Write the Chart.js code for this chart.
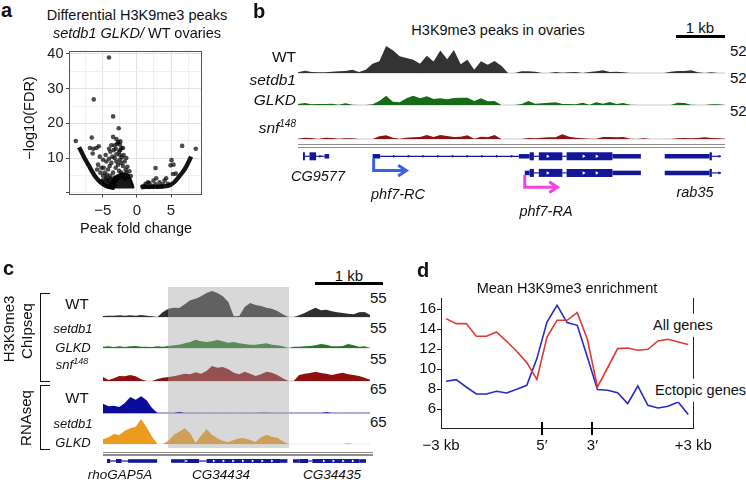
<!DOCTYPE html>
<html>
<head>
<meta charset="utf-8">
<script src="https://cdn.jsdelivr.net/npm/chart.js@4.4.1/dist/chart.umd.min.js"></script>
<style>
    body { margin: 0; width: 746px; height: 482px; overflow: hidden; position: relative; background: #fff; color: #111;
           font-family: "Liberation Sans", Arial, sans-serif; }
    canvas { position: absolute; }
    .t { position: absolute; white-space: nowrap; line-height: 1; }
    .rule { position: absolute; }
</style>
</head>
<body>
<script>
    // ---------- a: volcano plot (fold change vs -log10 FDR)
    var volcanoX = [-4.1, -6.34, -3.5, -2.68, -8.98, -6.63, -3.5, 6.63, 8.63, 2.73, 5.07, 5.37, 5.7, -5.6, -5.95, -6.9, -6.4, -6.5,
        -3.27, -2.9, -2.5, -3.1, -2.44, -2.5, -5.46, -4.98, -5.22, -5.71, -4.49, -4.73, -4.24, -4.0, -3.76, -4.1, -3.61, -3.27,
        -3.02, -2.78, -2.54, -2.29, -2.05, -1.8, -1.66, -3.12, -2.63, -2.29, -3.51, -3.9, -4.49, -4.98, -4.24, -3.27, -3.02, -2.54,
        -2.05, -1.56, -1.32, -1.8, -5.37, -4.88, -5.85, -4.59, -3.9, -3.41, -3.02, -2.63, -2.29, -2.78, -3.02, -2.44, -2.05, -1.95,
        -1.56, -3.76, -4.1, -4.8, -4.5, -4.2, -3.9, -3.7, -4.6, -4.0, -3.6, -5.0, -4.3, -3.8, -3.4, -3.3, 1.85, 1.61, 2.44, 2.83,
        3.32, 3.8, 4.05, 4.54, 3.56, 2.24, 1.12, 4.29, 1.27, 2.73, 4.93, 5.27, 0.78, 3.07, 1.76, -5.3, -4.4, -1.1, -0.9, -1.4, -2.2];
    var volcanoY = [39.0, 26.9, 22.0, 18.6, 14.9, 15.9, 16.1, 13.5, 12.7, 7.1, 9.4, 8.1, 5.5, 13.4, 12.9, 12.9, 12.7, 11.3,
        13.7, 14.1, 13.9, 12.7, 12.3, 10.9, 10.4, 9.5, 7.2, 8.1, 9.0, 5.8, 6.7, 7.7, 8.6, 9.8, 10.4, 10.0,
        9.0, 8.1, 9.5, 8.6, 7.7, 9.0, 6.7, 7.2, 6.3, 5.8, 5.8, 4.9, 4.4, 4.9, 3.5, 4.4, 3.5, 4.4,
        4.9, 5.8, 4.4, 4.0, 5.8, 7.2, 6.7, 10.9, 11.8, 12.3, 11.1, 11.8, 12.9, 14.6, 15.5, 14.8, 12.9, 10.9,
        10.0, 13.7, 12.7, 3.0, 2.5, 3.2, 2.6, 3.8, 3.9, 4.2, 2.2, 3.6, 1.9, 1.7, 3.0, 2.0, 2.8, 3.0, 3.5, 4.2,
        3.0, 2.4, 3.5, 2.6, 1.8, 2.0, 2.0, 4.2, 2.6, 2.4, 7.9, 5.4, 1.8, 1.7, 1.7, 3.3, 5.2, 6.2, 4.8, 7.5, 10.2];
    // dense lower edge of the cloud on each side, and the packed block near zero
    var leftEdgeX = [-8.49, -8.15, -7.8, -7.41, -7.02, -6.63, -6.2, -5.7, -5.2, -4.59, -4.0, -3.27];
    var leftEdgeY = [13.1, 11.8, 10.4, 9.0, 7.7, 6.3, 4.9, 3.7, 2.8, 2.0, 1.6, 1.4];
    var rightEdgeX = [0.63, 1.37, 2.34, 3.32, 4.29, 5.02, 5.51, 6.0, 6.49, 6.98, 7.46, 7.95];
    var rightEdgeY = [1.6, 1.7, 1.7, 1.8, 1.9, 2.4, 3.1, 4.2, 5.4, 6.7, 8.4, 10.4];
    var blockX = [-4.2, -3.8, -3.4, -2.9, -2.2, -1.6, -1.2, -0.85, -0.6, -0.5];
    var blockY = [1.3, 3.0, 4.3, 5.0, 5.6, 5.5, 5.2, 3.6, 2.2, 1.3];
    var fcTicks = [-5, 0, 5];
    var fcLabels = ['\u22125', '0', '5'];
    var fdrTicks = [10, 20, 30, 40];

    // ---------- b: H3K9me3 coverage in ovaries, 64 bins across the phf7 locus
    var ovWT = [1.2, 4.0, 1.7, 1.2, 1.2, 2.3, 2.9, 3.5, 5.8, 1.7, 5.8, 16.2, 20.2, 47, 39.3, 28.9, 26, 23.1, 16.2, 30, 20, 39, 24, 40,
        15, 23.1, 5.5, 20.2, 14.5, 21, 12.7, 0, 0, 2.9, 2.9, 2.3, 0, 0, 1.7, 0.6, 1.2, 1.7, 0, 1.7, 2.9, 4.6, 1.7, 2.3,
        1.2, 0, 0, 0, 0, 0, 0, 2.3, 3.5, 3.5, 4.6, 1.2, 0, 1.2, 0, 0];
    var ovGLKD = [1.7, 3.5, 1.2, 1.7, 1.7, 2.3, 0.6, 2.9, 0.6, 0, 0, 1.2, 6.9, 16.2, 5.8, 4.6, 11.6, 16.2, 11.6, 15, 10.4, 11.6, 9.8, 12.1,
        12.7, 12.7, 6.9, 11.6, 6.4, 6.9, 0, 0, 0, 1.7, 6.9, 2.3, 2.9, 4, 4.6, 1.7, 1.7, 1.2, 4, 0.6, 4.6, 2.3, 5.2, 1.7,
        3.5, 0.6, 0, 0, 0, 0, 0, 0, 4, 3.5, 0.6, 0, 0, 1.2, 1.2, 0];
    var ovSnf = [0.6, 2.3, 1.7, 0, 2.3, 1.7, 0.6, 1.2, 1.2, 0, 0, 0, 4.6, 6.4, 2.3, 0.6, 2.3, 2.9, 3.5, 6.9, 3.5, 6.9, 5.2, 3.5,
        4, 6.4, 0.6, 4, 2.9, 6.9, 0, 0, 0, 0, 1.7, 1.2, 2.3, 2.9, 2.9, 8.1, 4, 2.3, 1.2, 0.6, 0.6, 3.5, 3.5, 2.9,
        3.5, 0.6, 0, 1.2, 0, 0, 0, 0, 1.2, 1.7, 1.2, 1.7, 2.9, 1.7, 1.2, 0.6];
    var ovMax = 52;
    // gene parts in kb from the left edge of the window; row 1 / row 2 = two transcript lines
    var phf7Row = [1, 1, 1, 1, 1, 1, 1, 1, 1, 1, 1, 1, 1, 1, 2, 2, 2, 2, 2, 2, 2, 1, 1, 1, 2, 2, 2];
    var phf7Start = [0.02, 0.061, 0.156, 0.293, 0.469, 1.469, 1.626, 4.51, 4.735, 4.823, 4.925, 5.415, 5.503, 6.456,
        4.633, 4.735, 4.823, 4.925, 5.415, 5.503, 6.456, 7.544, 8.476, 8.524, 7.544, 8.476, 8.524];
    var phf7End = [0.061, 0.156, 0.293, 0.469, 0.565, 1.626, 4.51, 4.735, 4.823, 4.925, 5.415, 5.503, 6.456, 7.048,
        4.735, 4.823, 4.925, 5.415, 5.503, 6.456, 7.048, 8.476, 8.524, 8.714, 8.476, 8.524, 8.714];
    var phf7Kind = ['cds', 'intron', 'cds', 'intron', 'utr', 'utr', 'intron', 'utr', 'cds', 'intron', 'cds', 'intron', 'cds', 'utr',
        'utr', 'cds', 'intron', 'cds', 'intron', 'cds', 'utr', 'utr', 'cds', 'intron', 'utr', 'cds', 'intron'];
    var phf7IntronMarks = [0.38, 1.912, 2.218, 2.524, 2.83, 3.136, 3.442, 3.748, 4.054, 4.361, 8.68, 8.68];
    var phf7IntronRows = [1, 1, 1, 1, 1, 1, 1, 1, 1, 1, 1, 2];
    var phf7ExonMarks = [5.109, 5.857, 6.129, 5.109, 5.857, 6.129];
    var phf7ExonRows = [1, 1, 1, 2, 2, 2];
    var tssPos = [1.49, 4.633];
    var tssRow = [1, 2];
    var winB = 8.714;

    // ---------- c: ChIP-seq and RNA-seq around CG34434, 50 bins
    var chipWT = [2, 2.6, 2.6, 3.3, 2.6, 3.3, 2.6, 3.9, 2.6, 1.3, 0, 9.8, 16.4, 18.3, 17.7, 24.9, 32.8, 36, 40.6, 47.2, 51.1, 47.2, 40.6, 29.5,
        1.3, 2, 19.7, 27.5, 23.6, 21.6, 18.3, 16.4, 11.8, 5.2, 0, 0, 3.3, 7.9, 13.1, 18.3, 13.1, 14.4, 11.1, 9.2, 7.9, 6.6, 5.2, 9.2, 9.8, 3.9];
    var chipGLKD = [2.6, 3.3, 2, 3.3, 2, 3.3, 3.9, 2.6, 2.6, 2, 3.3, 2.6, 3.9, 5.2, 6.6, 9.2, 11.8, 16.4, 13.1, 11.8, 13.1, 15.7, 13.1, 10.5,
        11.8, 9.2, 7.9, 6.6, 6.6, 7.9, 9.2, 6.6, 5.2, 3.3, 0, 2.6, 2.6, 3.3, 3.9, 5.2, 7.9, 6.6, 3.3, 3.3, 3.9, 7.9, 5.2, 2.6, 3.3, 0];
    var chipSnf = [7.9, 2, 5.2, 9.8, 9.2, 11.8, 9.2, 3.3, 0, 0, 3.9, 6.6, 7.9, 9.2, 11.8, 14.4, 13.1, 17, 14.4, 19.7, 29.5, 26.2, 27.5, 22.9,
        16.4, 13.1, 18.3, 14.4, 9.8, 13.1, 18.3, 16.4, 11.8, 5.2, 0, 0, 11.8, 14.4, 15.7, 18.3, 15.7, 14.4, 11.8, 14.4, 16.4, 13.1, 11.8, 9.8, 6.6, 2.6];
    var rnaWT = [21.7, 15.5, 17, 13.9, 23.2, 37.2, 31, 38.7, 29.4, 11.6, 0, 0, 0, 0, 3.1, 0, 0, 0, 0, 0, 0, 0, 0, 0,
        0, 0, 0, 0, 0, 0.8, 0.8, 0, 0, 0, 0, 0, 0, 0, 0, 0, 0, 1.5, 0, 0, 0, 0, 0, 0, 0, 0];
    var rnaGLKD = [10.8, 15.5, 23.2, 20.9, 31, 36.4, 40.2, 58.1, 38.7, 17, 0, 0, 7.7, 21.7, 28.6, 36.4, 24.8, 2.3, 19.4, 34.8, 21.7, 13.2, 7, 3.9,
        9.3, 13.2, 13.2, 9.3, 4.6, 15.5, 21.7, 17, 14.7, 6.2, 0, 0, 0, 0, 0, 0, 0, 0, 0, 0, 0, 1.5, 0, 0, 0, 0];
    var chipMax = 55;
    var rnaMax = 65;
    var cgStart = [0.0, 0.049, 0.137, 0.221, 0.319, 0.971, 1.176, 1.397, 1.51, 2.623, 2.819, 2.917, 3.049, 3.113, 3.824];
    var cgEnd = [0.049, 0.137, 0.221, 0.319, 0.76, 1.176, 1.397, 1.51, 2.623, 2.735, 2.917, 3.049, 3.113, 3.824, 3.931];
    var cgKind = ['cds', 'intron', 'cds', 'intron', 'utr', 'utr', 'cds', 'intron', 'cds', 'utr', 'utr', 'cds', 'intron', 'cds', 'utr'];
    var cgExonMarks = [1.2, 1.618, 1.765, 1.912, 2.059, 2.206, 2.353, 2.5, 3.285, 3.431, 3.578, 3.725];
    var winC = 3.926;

    // ---------- d: mean H3K9me3 over 25 bins (-3 kb .. 5' .. 3' .. +3 kb)
    var allGenes = [15.07, 14.57, 14.57, 13.3, 13.3, 13.73, 12.8, 11.8, 10.67, 9.0, 13.23, 14.9, 14.9, 15.67, 13.0, 8.23,
        10.13, 12.07, 12.13, 11.9, 12.0, 12.83, 13.0, 12.73, 12.47];
    var ectopicGenes = [8.8, 8.97, 8.23, 7.53, 7.53, 7.8, 7.63, 8.0, 8.4, 11.07, 14.73, 16.4, 14.67, 14.4, 11.23, 7.97,
        7.9, 7.67, 6.57, 8.33, 6.4, 6.13, 6.3, 6.73, 5.47];
    var profileTicks = [0, 10, 15, 25];
    var profileLabels = ['\u22123 kb', '5\u2032', '3\u2032', '+3 kb'];
    var geneEdges = [10, 15];
    var enrichTicks = [6, 8, 10, 12, 14, 16];

    Chart.defaults.font.family = '"Liberation Sans", Arial, sans-serif';
    Chart.defaults.color = '#222';
    Chart.defaults.plugins.legend.display = false;
    Chart.defaults.plugins.tooltip.enabled = false;

    var base = { animation: false, responsive: false, devicePixelRatio: 1, events: [] };
    var navy = '#12179a';

    function makeCanvas(x, y, w, h) {
        var c = document.createElement('canvas');
        c.width = w; c.height = h;
        c.style.left = x + 'px'; c.style.top = y + 'px';
        document.body.appendChild(c);
        return c;
    }

    function label(html, x, y, o) {
        o = o || {};
        var d = document.createElement('div');
        d.className = 't';
        d.innerHTML = html;
        d.style.left = x + 'px';
        d.style.top = y + 'px';
        d.style.fontSize = (o.size || 15) + 'px';
        if (o.bold) d.style.fontWeight = 'bold';
        if (o.italic) d.style.fontStyle = 'italic';
        if (o.bg) { d.style.background = o.bg; d.style.padding = o.pad; }
        var ax = o.align === 'left' ? '0' : (o.align === 'right' ? '-100%' : '-50%');
        d.style.transform = 'translate(' + ax + ',-50%)' + (o.rotate ? ' rotate(' + o.rotate + 'deg)' : '');
        document.body.appendChild(d);
        return d;
    }

    function rule(x, y, w, h, css) {
        var d = document.createElement('div');
        d.className = 'rule';
        d.style.left = x + 'px'; d.style.top = y + 'px';
        d.style.width = w + 'px'; d.style.height = h + 'px';
        d.style.cssText += css;
        document.body.appendChild(d);
        return d;
    }

    function opts(extra) {
        return Object.assign({}, base, extra);
    }

    // one coverage track: baseline sits at pixel `baseY`, full scale `max` is `h` px tall
    function track(left, baseY, width, h, vals, max, color, lineColor) {
        var c = makeCanvas(left, Math.round(baseY - h), width, h + 2);
        var sets = [{ data: vals, backgroundColor: color, borderColor: 'transparent', borderWidth: 0, fill: 'origin', pointRadius: 0 }];
        if (lineColor) {
            sets.push({ data: vals.map(function () { return 0; }), borderColor: lineColor, borderWidth: 1, pointRadius: 0, fill: false });
        }
        new Chart(c, {
            type: 'line',
            data: { labels: vals.map(function (v, i) { return i; }), datasets: sets },
            options: opts({
                layout: { padding: 0 },
                scales: { x: { display: false }, y: { display: false, min: -max * 2 / h, max: max } }
            })
        });
    }

    function geneModel(left, top, width, height, kbMax, rowMin, rowMax, rows, starts, ends, kinds, thick, extraSets) {
        var c = makeCanvas(left, top, width, height);
        var sets = extraSets.slice();
        starts.forEach(function (s, i) {
            sets.push({
                data: [{ x: s, y: rows[i] }, { x: ends[i], y: rows[i] }],
                showLine: true, borderColor: navy, borderWidth: thick[kinds[i]], borderCapStyle: 'butt', pointRadius: 0
            });
        });
        new Chart(c, {
            type: 'scatter',
            data: { datasets: sets },
            options: opts({
                layout: { padding: 0 },
                scales: {
                    x: { type: 'linear', display: false, min: 0, max: kbMax },
                    y: { type: 'linear', display: false, min: rowMin, max: rowMax, reverse: true }
                }
            })
        });
    }

    function marks(xs, ys, color, r) {
        return {
            data: xs.map(function (x, i) { return { x: x, y: ys[i] }; }),
            pointStyle: 'triangle', rotation: 90, pointRadius: r, backgroundColor: color, borderWidth: 0
        };
    }

    // ================= a
    var gridMinorX = [-7.5, -2.5, 2.5, 7.5];
    var gridMinorY = [0, 5, 15, 25, 35];
    function mixTicks(major, minor) {
        return major.concat(minor).sort(function (p, q) { return p - q; }).map(function (v) { return { value: v }; });
    }
    function isMajor(list) {
        return function (ctx) { return ctx.tick && list.indexOf(ctx.tick.value) >= 0; };
    }
    var majX = isMajor(fcTicks), majY = isMajor(fdrTicks);
    var pts = function (xs, ys) { return xs.map(function (x, i) { return { x: x, y: ys[i] }; }); };

    var cA = makeCanvas(0, 40, 210, 196);
    new Chart(cA, {
        type: 'scatter',
        data: {
            datasets: [
                { data: pts(volcanoX, volcanoY), pointRadius: 2.3, backgroundColor: 'rgba(0,0,0,0.7)', borderWidth: 0 },
                { data: pts(leftEdgeX, leftEdgeY), showLine: true, borderColor: 'rgba(0,0,0,0.92)', borderWidth: 4.4, pointRadius: 0, tension: 0.35 },
                { data: pts(rightEdgeX, rightEdgeY), showLine: true, borderColor: 'rgba(0,0,0,0.92)', borderWidth: 4.4, pointRadius: 0, tension: 0.35 },
                { data: pts(blockX, blockY), showLine: true, borderColor: 'rgba(0,0,0,0.9)', borderWidth: 2, pointRadius: 0,
                  backgroundColor: 'rgba(0,0,0,0.9)', fill: { value: 1.2 } }
            ]
        },
        options: opts({
            layout: { padding: { top: 5.5, right: 9, left: 0, bottom: 0 } },
            scales: {
                x: {
                    type: 'linear', min: -9.9, max: 9.4,
                    afterBuildTicks: function (s) { s.ticks = mixTicks(fcTicks, gridMinorX); },
                    afterFit: function (s) { s.height = 42; },
                    ticks: {
                        font: { size: 15 }, color: '#222', padding: 4, maxRotation: 0, autoSkip: false,
                        callback: function (v) { var k = fcTicks.indexOf(v); return k < 0 ? '' : fcLabels[k]; }
                    },
                    grid: {
                        color: function (ctx) { return majX(ctx) ? '#e2e2e2' : '#f0f0f0'; },
                        tickColor: function (ctx) { return majX(ctx) ? '#444' : 'rgba(0,0,0,0)'; },
                        tickLength: 3.5
                    },
                    border: { color: '#555', width: 1 }
                },
                y: {
                    type: 'linear', min: -0.36, max: 40.8,
                    afterBuildTicks: function (s) { s.ticks = mixTicks(fdrTicks, gridMinorY); },
                    afterFit: function (s) { s.width = 69.5; },
                    ticks: {
                        font: { size: 14.5 }, color: '#222', padding: 2.5, autoSkip: false,
                        callback: function (v) { return fdrTicks.indexOf(v) < 0 ? '' : String(v); }
                    },
                    grid: {
                        color: function (ctx) { return majY(ctx) ? '#e2e2e2' : '#f0f0f0'; },
                        tickColor: function (ctx) { return majY(ctx) || (ctx.tick && ctx.tick.value === 0) ? '#444' : 'rgba(0,0,0,0)'; },
                        tickLength: 3.5
                    },
                    border: { color: '#555', width: 1 }
                },
                x2: { type: 'linear', position: 'top', ticks: { display: false }, grid: { display: false, drawTicks: false },
                      border: { color: '#555', width: 1 }, afterFit: function (s) { s.height = 0; } },
                y2: { type: 'linear', position: 'right', ticks: { display: false }, grid: { display: false, drawTicks: false },
                      border: { color: '#555', width: 1 }, afterFit: function (s) { s.width = 0; } }
            }
        })
    });

    label('a', 1, 10, { align: 'left', bold: true, size: 20 });
    label('Differential H3K9me3 peaks', 137, 15, { size: 14.5 });
    label('<i>setdb1 GLKD/</i> WT ovaries', 137, 32.5, { size: 14.5 });
    label('\u2212log10(FDR)', 29, 118, { size: 14.5, rotate: -90 });
    label('Peak fold change', 136, 228, { size: 14.5 });

    // ================= b
    track(298, 72.5, 427, 30, ovWT, ovMax, '#333333', '#c9c9c9');
    track(298, 105.3, 427, 30, ovGLKD, ovMax, '#166b16', '#c9c9c9');
    track(298, 138.7, 427, 30, ovSnf, ovMax, '#8a1414', '#c9c9c9');
    rule(298, 144, 427, 1.3, 'background:#8e8e8e;');
    rule(298, 146.8, 427, 1.3, 'background:#8e8e8e;');

    var tssColor = ['#3d5fe3', '#ee45dc'];
    var tssSets = [];
    tssPos.forEach(function (p, i) {
        var r = tssRow[i], yb = r + 0.86, end = p + 0.68;
        tssSets.push({ data: [{ x: p, y: r + 0.12 }, { x: p, y: yb }, { x: end, y: yb }], showLine: true, borderColor: tssColor[i],
                       borderWidth: 3, borderJoinStyle: 'miter', pointRadius: 0 });
        tssSets.push({ data: [{ x: end - 0.17, y: yb - 0.32 }, { x: end, y: yb }, { x: end - 0.17, y: yb + 0.32 }], showLine: true,
                       borderColor: tssColor[i], borderWidth: 3, borderJoinStyle: 'miter', pointRadius: 0 });
    });
    geneModel(298, 141, 427, 57, winB, 0.32, 3.27, phf7Row, phf7Start, phf7End, phf7Kind,
        { cds: 8, utr: 4.5, intron: 1.2 },
        [marks(phf7ExonMarks, phf7ExonRows, '#ffffff', 2), marks(phf7IntronMarks, phf7IntronRows, navy, 1.8)].concat(tssSets));

    label('b', 253, 10.5, { align: 'left', bold: true, size: 20 });
    label('H3K9me3 peaks in ovaries', 498, 30, { size: 14.5 });
    label('1 kb', 700, 27, { size: 15 });
    rule(676, 35.2, 49, 3, 'background:#000;');
    label('WT', 296, 57, { align: 'right', size: 15.5 });
    label('setdb1', 296, 80, { align: 'right', size: 15.5, italic: true });
    label('GLKD', 296, 100, { align: 'right', size: 15.5, italic: true });
    label('snf<sup style="font-size:10px">148</sup>', 296, 127, { align: 'right', size: 15.5, italic: true });
    label('52', 730, 50, { align: 'left', size: 15 });
    label('52', 730, 77, { align: 'left', size: 15 });
    label('52', 730, 110, { align: 'left', size: 15 });
    label('CG9577', 318, 176, { size: 14.5, italic: true });
    label('phf7-RC', 398, 194, { size: 14.5, italic: true });
    label('phf7-RA', 546, 211, { size: 14.5, italic: true });
    label('rab35', 695, 192, { size: 14.5, italic: true });

    // ================= c
    track(103, 317.3, 267, 28, chipWT, chipMax, '#2e2e2e', '#cfcfcf');
    track(103, 348.3, 267, 28, chipGLKD, chipMax, '#237a23', '#cfcfcf');
    track(103, 380.7, 267, 28, chipSnf, chipMax, '#8e1010', '#cfcfcf');
    track(103, 412.7, 267, 28, rnaWT, rnaMax, '#0b0b9a', '#5a5ab8');
    track(103, 444.3, 267, 28, rnaGLKD, rnaMax, '#eb9c1e', '#ececec');
    // highlighted CG34434 region
    rule(168.3, 287.3, 120.7, 160.4, 'background:rgba(164,164,164,0.43);');
    rule(103, 452, 270, 1.3, 'background:#8e8e8e;');
    rule(103, 454.4, 270, 1.3, 'background:#8e8e8e;');
    geneModel(103, 455, 267, 12, winC, 0.5, 1.5, cgStart.map(function () { return 1; }), cgStart, cgEnd, cgKind,
        { cds: 6, utr: 3.6, intron: 1.2 },
        [marks(cgExonMarks, cgExonMarks.map(function () { return 1; }), '#ffffff', 1.6)]);

    label('c', 3, 268, { align: 'left', bold: true, size: 20 });
    label('1 kb', 349, 274.5, { size: 15 });
    rule(315, 282, 68, 3, 'background:#000;');
    rule(40, 293, 10, 89, 'border:1.5px solid #111;border-right:none;box-sizing:border-box;');
    rule(40, 385, 10, 65, 'border:1.5px solid #111;border-right:none;box-sizing:border-box;');
    label('H3K9me3', 8, 329, { size: 15, rotate: -90 });
    label('ChIpseq', 26, 331, { size: 15, rotate: -90 });
    label('RNAseq', 25, 418, { size: 15, rotate: -90 });
    label('WT', 77, 302.7, { size: 15 });
    label('setdb1', 73, 328, { size: 13, italic: true });
    label('GLKD', 73, 346.7, { size: 13, italic: true });
    label('snf<sup style="font-size:9px">148</sup>', 72, 364, { size: 13, italic: true });
    label('WT', 77, 396.7, { size: 15 });
    label('setdb1', 73, 423, { size: 13, italic: true });
    label('GLKD', 73, 441.7, { size: 13, italic: true });
    label('55', 370, 296.7, { align: 'left', size: 15 });
    label('55', 370, 326.7, { align: 'left', size: 15 });
    label('55', 370, 357.5, { align: 'left', size: 15 });
    label('65', 370, 388, { align: 'left', size: 15 });
    label('65', 370, 421, { align: 'left', size: 15 });
    label('rhoGAP5A', 120, 475, { size: 13.5, italic: true });
    label('CG34434', 221, 475, { size: 13.5, italic: true });
    label('CG34435', 332, 475, { size: 13.5, italic: true });

    // ================= d
    var edgeMarks = {
        id: 'edgeMarks',
        afterDraw: function (chart) {
            var xs = chart.scales.x, b = chart.chartArea.bottom, ctx = chart.ctx;
            ctx.save();
            ctx.strokeStyle = '#000';
            ctx.lineWidth = 2;
            geneEdges.forEach(function (v) {
                var px = Math.round(xs.getPixelForValue(v));
                ctx.beginPath(); ctx.moveTo(px, b - 6); ctx.lineTo(px, b + 7); ctx.stroke();
            });
            ctx.restore();
        }
    };
    var binned = function (vals) { return vals.map(function (v, i) { return { x: i + 0.5, y: v }; }); };
    var cD = makeCanvas(400, 280, 346, 170);
    new Chart(cD, {
        type: 'line',
        data: {
            datasets: [
                { data: binned(allGenes), borderColor: '#dd3a3a', borderWidth: 1.6, pointRadius: 0, tension: 0 },
                { data: binned(ectopicGenes), borderColor: '#2a2ac6', borderWidth: 1.6, pointRadius: 0, tension: 0 }
            ]
        },
        options: opts({
            layout: { padding: { top: 18.7, right: 52.7, left: 0, bottom: 0 } },
            scales: {
                x: {
                    type: 'linear', min: 0, max: 25,
                    afterBuildTicks: function (s) { s.ticks = profileTicks.map(function (v) { return { value: v }; }); },
                    afterFit: function (s) { s.height = 22; },
                    ticks: { font: { size: 15 }, color: '#111', padding: 9, maxRotation: 0, autoSkip: false,
                             callback: function (v, i) { return profileLabels[i]; } },
                    grid: { display: false, drawTicks: false },
                    border: { color: '#222', width: 1 }
                },
                y: {
                    type: 'linear', min: 4.13, max: 17.06,
                    afterBuildTicks: function (s) { s.ticks = enrichTicks.map(function (v) { return { value: v }; }); },
                    afterFit: function (s) { s.width = 41; },
                    ticks: { font: { size: 15 }, color: '#111', padding: 1, autoSkip: false },
                    grid: { drawOnChartArea: false, tickLength: 4, tickColor: '#222' },
                    border: { color: '#222', width: 1 }
                },
                y2: { type: 'linear', position: 'right', ticks: { display: false }, grid: { display: false, drawTicks: false },
                      border: { color: '#222', width: 1 }, afterFit: function (s) { s.width = 0; } }
            }
        }),
        plugins: [edgeMarks]
    });

    label('d', 417, 270, { align: 'left', bold: true, size: 20 });
    label('Mean H3K9me3 enrichment', 567, 288, { size: 14.5 });
    label('All genes', 653, 325, { align: 'left', size: 14.5, bg: '#fff', pad: '4px 0' });
    label('Ectopic genes', 655, 390, { align: 'left', size: 14.5, bg: '#fff', pad: '4px 0' });
</script>
</body>
</html>
